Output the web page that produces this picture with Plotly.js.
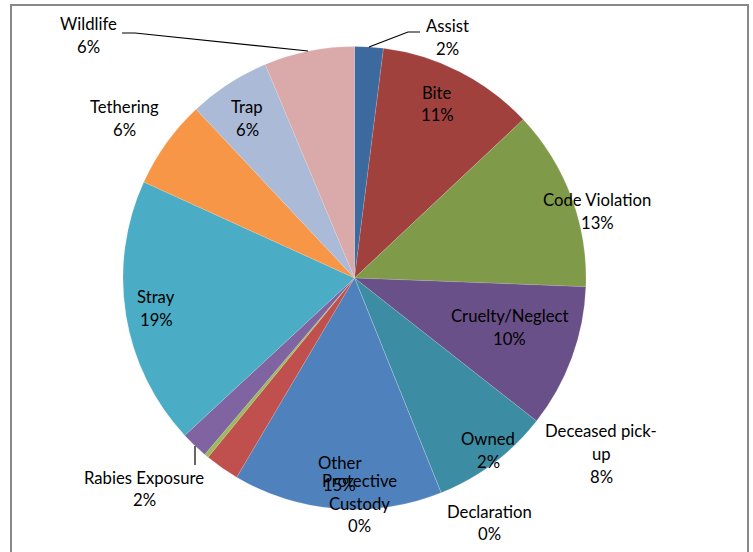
<!DOCTYPE html>
<html>
<head>
<meta charset="utf-8">
<script src="https://cdn.plot.ly/plotly-3.0.1.min.js"></script>
<style>
html,body{margin:0;padding:0;overflow:hidden;background:#fff;}
#chart{width:753px;height:552px;}
</style>
</head>
<body>
<div id="chart"></div>
<script>
// ---- data (percent of calls) ----
const categories = ["Assist","Bite","Code Violation","Cruelty/Neglect","Deceased pick-up","Declaration","Other","Owned","Protective Custody","Rabies Exposure","Stray","Tethering","Trap","Wildlife"];
const values = [2.0, 11.0, 12.6, 10.0, 8.3, 0, 14.6, 2.4, 0.3, 1.9, 18.7, 6.2, 5.7, 6.3];
const colors = ["#3D6A9E","#A0413E","#7F9A48","#6A5088","#3C8DA3","#D17B34","#4F81BD","#C0504D","#9BBB59","#8064A2","#4BACC6","#F79646","#AABAD7","#D9AAA9"];

// ---- layout helpers (pixel -> paper) ----
const W = 753, H = 552;
const M = {l:123, r:167, t:46, b:42};
const pw = W - M.l - M.r, ph = H - M.t - M.b;
const px = x => (x - M.l) / pw;
const py = y => 1 - (y - M.t) / ph;

// label block centres, in pixels (placement only)
const labelPos = [[447,37.5],[437,104],[597,211.5],[509,327.5],[601,454],[489,523],[339.5,474],[488,450.5],[359.5,503.7],[144,489],[156,308.5],[124,118.5],[247,118.5],[88,35.5]];
const wrapped = {"Deceased pick-up":["Deceased pick-","up"],"Protective Custody":["Protective","Custody"]};
const LINE = 22.7;
const FONT = {family:"Lato, 'Open Sans', sans-serif", size:16.7, color:"#000"};

const total = values.reduce((a,b)=>a+b,0);
const annotations = [];
categories.forEach((c,i)=>{
  const lines = (wrapped[c] || [c]).concat([Math.round(values[i]/total*100) + "%"]);
  const [cx, cy] = labelPos[i];
  lines.forEach((t,k)=>{
    annotations.push({
      x: px(cx), y: py(cy + (k - (lines.length-1)/2) * LINE),
      xref:"paper", yref:"paper", text:t, showarrow:false,
      xanchor:"center", yanchor:"middle", font:FONT
    });
  });
});

const leader = pts => "M " + pts.map(p => px(p[0]) + "," + py(p[1])).join(" L ");
const shapes = [
  {type:"path", xref:"paper", yref:"paper", path: leader([[122,33],[135,33],[308,51]]), line:{color:"#000", width:1.2}},
  {type:"path", xref:"paper", yref:"paper", path: leader([[369,47],[408,32],[420,32]]), line:{color:"#000", width:1.2}},
  {type:"path", xref:"paper", yref:"paper", path: leader([[195,446],[195,465]]), line:{color:"#000", width:1.2}},
  {type:"rect", xref:"paper", yref:"paper", x0:px(11), x1:px(748), y0:py(5), y1:py(620), line:{color:"#888888", width:2}}
];

const trace = {
  type:"pie",
  labels: categories,
  values: values,
  sort:false,
  direction:"clockwise",
  rotation:0,
  marker:{colors:colors, line:{color:"rgba(255,255,255,0.25)", width:0.5}},
  textinfo:"none",
  hoverinfo:"label+percent",
  showlegend:false
};

Plotly.newPlot("chart", [trace], {
  width:W, height:H,
  margin:M,
  paper_bgcolor:"#fff",
  showlegend:false,
  annotations:annotations,
  shapes:shapes
}, {displayModeBar:false, staticPlot:true});
</script>
</body>
</html>
